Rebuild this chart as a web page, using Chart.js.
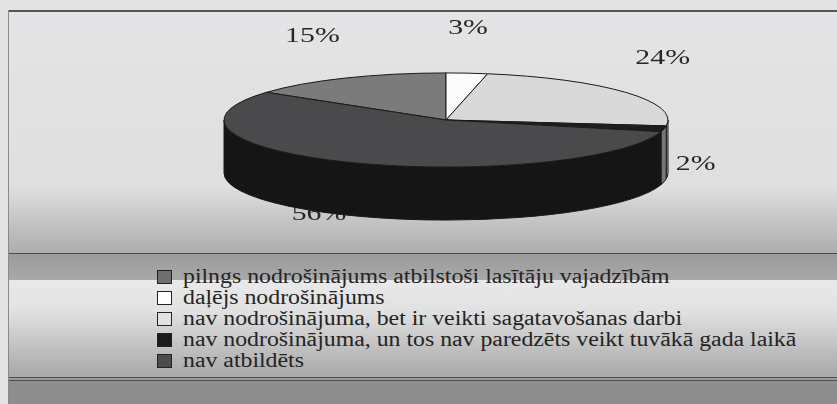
<!DOCTYPE html>
<html>
<head>
<meta charset="utf-8">
<script src="https://cdn.jsdelivr.net/npm/chart.js@4.4.1/dist/chart.umd.min.js"></script>
<style>
    body { margin: 0; width: 837px; height: 404px; overflow: hidden; position: relative; background: #e3e3e3; font-family: 'Liberation Serif', serif; }
    .band { position: absolute; left: 8px; right: 0; }
    #frameLeft { position: absolute; left: 8px; top: 10px; bottom: 0; width: 1px; background: #8a8a8a; }
    #legend { position: absolute; left: 157px; top: 266px; font-size: 20px; color: #242424; }
    #legend .row { display: flex; align-items: center; height: 21px; white-space: nowrap; }
    #legend .sw { width: 15px; height: 14px; border: 1.5px solid #222; box-sizing: border-box; margin-right: 11px; flex: none; }
    #legend .tx { display: inline-block; transform: scaleX(1.19); transform-origin: left center; }
    #pie { position: absolute; left: 0; top: 0; }
</style>
</head>
<body>
<div class="band" style="top:10px;height:2px;background:#555;"></div>
<div class="band" style="top:12px;height:241px;background:linear-gradient(to bottom,#e4e4e6 0px,#dfdfe0 175px,#c2c2c2 212px,#adadad 241px);"></div>
<div class="band" style="top:253px;height:1px;background:#4a4a4a;"></div>
<div class="band" style="top:254px;height:26px;background:linear-gradient(to bottom,#9c9c9c,#a8a8a8);"></div>
<div class="band" style="top:280px;height:97px;background:linear-gradient(to bottom,#e9e9e9 0px,#e2e2e2 30px,#bababa 75px,#a8a8a8 97px);"></div>
<div class="band" style="top:377px;height:1px;background:#505050;"></div>
<div class="band" style="top:378px;height:2px;background:#9a9a9a;"></div>
<div class="band" style="top:380px;height:1px;background:#505050;"></div>
<div class="band" style="top:381px;height:23px;background:#8e8e8e;"></div>
<div id="frameLeft"></div>
<canvas id="pie" width="837" height="240"></canvas>
<div id="legend"></div>
<script>
var categories = [
    'pilngs nodrošinājums atbilstoši lasītāju vajadzībām',
    'daļējs nodrošinājums',
    'nav nodrošinājuma, bet ir veikti sagatavošanas darbi',
    'nav nodrošinājuma, un tos nav paredzēts veikt tuvākā gada laikā',
    'nav atbildēts'
];
var shares = [15, 3, 24, 2, 56];

var topColors = ['#7b7b7b', '#fbfbfb', '#d9d9d9', '#1e1e1e', '#4a4a4c'];
var sideColors = ['#5a5a5a', '#c8c8c8', '#a9a9a9', '#767676', '#151515'];
var legendColors = ['#6f6f6f', '#ffffff', '#e2e2e2', '#1a1a1a', '#4c4c4c'];

var TILT = 0.212;   // ellipse height / width
var DEPTH = 53;     // thickness of the pie in px
var TEXT_STRETCH = 1.42;

var total = shares.reduce(function (a, b) { return a + b; }, 0);

// draws the pie as a tilted disc, using the arc geometry chart.js computed
var pie3d = {
    id: 'pie3d',
    beforeDatasetsDraw: function (chart) {
        var ctx = chart.ctx;
        var arcs = chart.getDatasetMeta(0).data;
        var cx = arcs[0].x, cy = arcs[0].y;
        var rx = arcs[0].outerRadius, ry = rx * TILT;

        // labels go first, the disc may cover part of them
        ctx.save();
        ctx.font = '21px "Liberation Serif"';
        ctx.fillStyle = '#262626';
        arcs.forEach(function (a, i) {
            var mid = (a.startAngle + a.endAngle) / 2;
            var c = Math.cos(mid), s = Math.sin(mid);
            var x = cx + (rx + 12) * c, y;
            var align = c > 0.3 ? 'left' : (c < -0.3 ? 'right' : 'center');
            if (s < 0) {
                y = cy + (ry + 27) * s - 12;
                ctx.textBaseline = 'alphabetic';
            } else {
                y = cy + DEPTH * 0.6 + (ry + 22) * s;
                ctx.textBaseline = 'middle';
            }
            ctx.save();
            ctx.translate(x, y);
            ctx.scale(TEXT_STRETCH, 1);
            ctx.textAlign = align;
            ctx.fillText(shares[i] + '%', 0, 0);
            ctx.restore();
        });
        ctx.restore();

        ctx.save();
        ctx.lineWidth = 1;
        ctx.strokeStyle = '#1a1a1a';
        ctx.lineJoin = 'round';

        // front wall
        arcs.forEach(function (a, i) {
            var a0 = Math.max(a.startAngle, 0), a1 = Math.min(a.endAngle, Math.PI);
            if (a1 <= a0) return;
            ctx.beginPath();
            ctx.ellipse(cx, cy, rx, ry, 0, a0, a1);
            ctx.lineTo(cx + rx * Math.cos(a1), cy + DEPTH + ry * Math.sin(a1));
            ctx.ellipse(cx, cy + DEPTH, rx, ry, 0, a1, a0, true);
            ctx.closePath();
            ctx.fillStyle = sideColors[i];
            ctx.fill();
            ctx.stroke();
        });

        // top face
        arcs.forEach(function (a, i) {
            ctx.beginPath();
            ctx.moveTo(cx, cy);
            ctx.ellipse(cx, cy, rx, ry, 0, a.startAngle, a.endAngle);
            ctx.closePath();
            ctx.fillStyle = topColors[i];
            ctx.fill();
            ctx.stroke();
        });
        ctx.restore();
        return false;
    }
};

new Chart(document.getElementById('pie'), {
    type: 'pie',
    data: {
        labels: categories,
        datasets: [{
            data: shares,
            backgroundColor: topColors,
            borderWidth: 0,
            radius: 222
        }]
    },
    plugins: [pie3d],
    options: {
        responsive: false,
        animation: false,
        rotation: -shares[0] / total * 360,
        layout: { padding: { left: 55 } },
        plugins: {
            legend: { display: false },
            tooltip: { enabled: false }
        }
    }
});

var legend = document.getElementById('legend');
categories.forEach(function (name, i) {
    var row = document.createElement('div');
    row.className = 'row';
    row.innerHTML = '<span class="sw" style="background:' + legendColors[i] + '"></span><span class="tx">' + name + '</span>';
    legend.appendChild(row);
});
</script>
</body>
</html>
